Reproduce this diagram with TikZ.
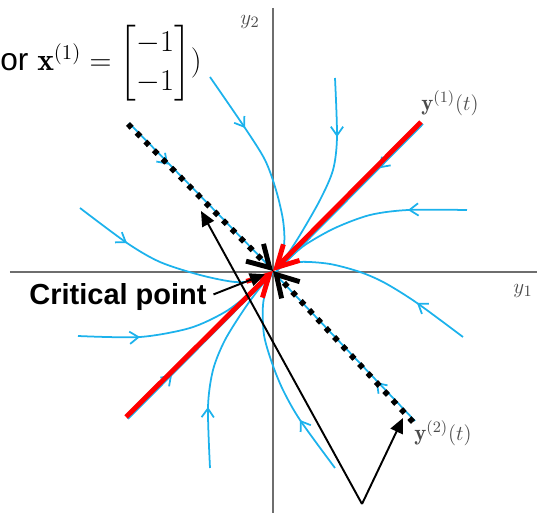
\documentclass[tikz,border=0pt]{standalone}
\usepackage{amsmath,amssymb}
\usepackage{fontspec}
\usepackage{tikz}
\usetikzlibrary{arrows.meta, positioning, calc}
\newfontfamily\labelfont{Liberation Sans}
\definecolor{trajblue}{RGB}{28,178,236}
\definecolor{axisgray}{RGB}{110,110,110}
\definecolor{lblgray}{RGB}{75,75,75}
\tikzset{
  axis/.style    ={draw=axisgray, line width=0.8pt},
  traj/.style    ={draw=trajblue, line width=1pt},
  flowtip/.style ={traj, -{Straight Barb[length=5pt, width=7pt]}},
  eigone/.style  ={draw=red, line width=2.8pt,
                   -{Straight Barb[length=12pt, width=13pt]}},
  eigtwo/.style  ={draw=black, line width=3.2pt, dash pattern=on 3pt off 4pt,
                   -{Straight Barb[length=12pt, width=14pt, line width=2.8pt]}},
  pointer/.style ={draw=black, line width=1.1pt,
                   -{Triangle[length=8.5pt, width=7.5pt]}},
  axlbl/.style   ={text=lblgray, font=\fontsize{13}{15}\selectfont, inner sep=0pt}
}

\begin{document}
\begin{tikzpicture}[x=0.02cm, y=-0.02cm]
\useasboundingbox (0,0) rectangle (539,513);

%  Axes
\coordinate (O) at (273,271);
\draw[axis] (10,272) -- (537,272);
\draw[axis] (273,8) -- (273,513);
\node[axlbl] (yone) at (523,291) {$y_1$};
\node[axlbl] (ytwo) at (250,22) {$y_2$};

%  Trajectories
\draw[traj] plot[smooth] coordinates
  {(210,77) (245,128) (265,160) (276,190) (283,220) (284,245) (276,268)};
\draw[traj] plot[smooth] coordinates
  {(335,78) (337,137) (333,170) (320,200) (300,235) (285,258) (275,269)};
\draw[traj] plot[smooth] coordinates
  {(467,210) (408,210) (370,215) (335,228) (305,245) (285,262) (275,269)};
\draw[traj] plot[smooth] coordinates
  {(463,337) (417,303) (385,283) (360,272) (330,264) (300,262) (280,268)};
\draw[traj] plot[smooth] coordinates
  {(80,208) (127,243) (160,262) (200,275) (235,282) (258,280) (272,272)};
\draw[traj] plot[smooth] coordinates
  {(78,336) (140,337) (190,328) (225,312) (250,293) (270,274)};
\draw[traj] plot[smooth] coordinates
  {(210,468) (208,407) (213,370) (225,340) (245,308) (262,285) (272,273)};
\draw[traj] plot[smooth] coordinates
  {(335,468) (300,420) (283,390) (272,363) (264,335) (263,305) (268,283) (273,272)};
\draw[flowtip] (242.8,124.7) -- (245,128);
\draw[flowtip] (337,133) -- (337,137);
\draw[flowtip] (412,209.8) -- (408,210);
\draw[flowtip] (420.3,305.3) -- (417,303);
\draw[flowtip] (123.7,240.8) -- (127,243);
\draw[flowtip] (136,337.3) -- (140,337);
\draw[flowtip] (207.9,411) -- (208,407);
\draw[flowtip] (302.2,423.3) -- (300,420);

%  Straight-line solutions
\coordinate (Rtop) at (421,122);
\coordinate (Rbot) at (126,417);
\coordinate (Dtop) at (128,124);
\coordinate (Dbot) at (413,422);
\draw[traj] (128,419) -- (272,274);
\draw[traj] (423,124) -- (275,273);
\draw[traj] (129,123) -- (272,269);
\draw[traj] (415,421) -- (275,274);
\draw[flowtip] (169.2,377.5) -- (172,374.7);
\draw[flowtip] (381.8,165.5) -- (379,168.3);
\draw[flowtip] (165.2,161.7) -- (168,164.5);
\draw[flowtip] (378.7,384.9) -- (376,382);
\draw[eigone] (Rtop) -- (O);
\draw[eigone] (Rbot) -- (O);
\draw[eigtwo] (Dtop) -- (O);
\draw[eigtwo] (Dbot) -- (O);
\node[axlbl] (solone) at (450,103) {$\mathbf{y}^{(1)}(t)$};
\node[axlbl] (soltwo) at (443,433) {$\mathbf{y}^{(2)}(t)$};

%  Annotations
\node[anchor=base west, inner sep=0pt, font=\fontsize{18}{22}\selectfont] (eqn) at (0,71)
  {\labelfont or\ $\mathbf{x}^{(1)}=\begin{bmatrix}-1\\-1\end{bmatrix})$};
\node[font={\labelfont\bfseries\fontsize{16.5}{18}\selectfont}, inner sep=0pt] (crit)
  at (118,297) {Critical point};
\draw[pointer, shorten <=4pt, shorten >=5pt] (crit.east) -- (O);
\coordinate (V) at (362,504);
\coordinate (Ptop) at (201,211);
\coordinate (Pbot) at (403,418);
\draw[pointer] (V) -- (Ptop);
\draw[pointer] (V) -- (Pbot);
\end{tikzpicture}
\end{document}
